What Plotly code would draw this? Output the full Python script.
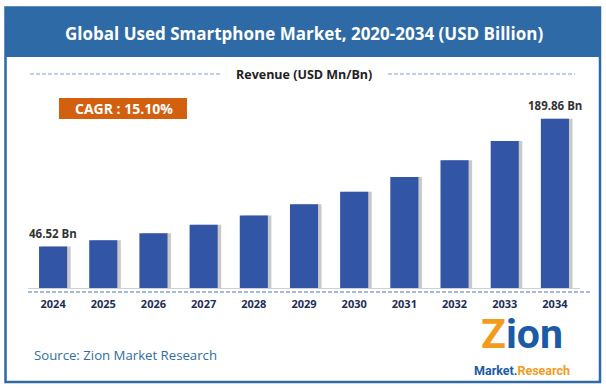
import plotly.graph_objects as go

years = ["2024", "2025", "2026", "2027", "2028", "2029", "2030", "2031", "2032", "2033", "2034"]
revenue = [46.52, 53.6, 61.5, 71.0, 81.5, 94.0, 108.0, 124.5, 143.5, 165.0, 189.86]
first_label = "46.52 Bn"
last_label = "189.86 Bn"
title_text = "Global Used Smartphone Market, 2020-2034 (USD Billion)"
subtitle_text = "Revenue (USD Mn/Bn)"
cagr_text = "CAGR : 15.10%"
source_text = "Source: Zion Market Research"

W, H = 606, 388
L, R, T, B = 28, 26, 92, 100
PW = W - L - R
PH = H - T - B


def px(x):
    return (x - L) / PW


def py(y):
    return (H - B - y) / PH


BLUE = "#2d6aa6"
BAR = "#3256a5"
FONT = "Open Sans"

fig = go.Figure()

# shadow
fig.add_trace(go.Bar(x=years, y=revenue, width=0.56, offset=-0.21,
                     marker=dict(color="rgba(120,120,120,0.4)", line_width=0),
                     hoverinfo="skip", showlegend=False))
fig.add_trace(go.Bar(x=years, y=revenue, width=0.56, offset=-0.28,
                     marker=dict(color=BAR, line_width=0),
                     showlegend=False))

shapes = []
# header
shapes.append(dict(type="rect", xref="paper", yref="paper", x0=px(5), x1=px(600), y0=py(57), y1=py(7),
                   fillcolor=BLUE, line_width=0, layer="below"))
# border
shapes.append(dict(type="rect", xref="paper", yref="paper", x0=px(5.5), x1=px(600), y0=py(382), y1=py(7.5),
                   line=dict(color=BLUE, width=2.5), fillcolor="rgba(0,0,0,0)"))
# dashed lines around subtitle
for x0, x1 in [(30, 222), (388, 575)]:
    shapes.append(dict(type="line", xref="paper", yref="paper", x0=px(x0), x1=px(x1), y0=py(74), y1=py(74),
                       line=dict(color="#7f9fd0", width=1, dash="4px,2px")))
# baseline gray
shapes.append(dict(type="line", xref="paper", yref="paper", x0=px(28), x1=px(580), y0=py(288.5), y1=py(288.5),
                   line=dict(color="#cfcfcf", width=1)))
# dashed baseline
shapes.append(dict(type="line", xref="paper", yref="paper", x0=px(28), x1=px(592), y0=py(292), y1=py(292),
                   line=dict(color="#4a78c2", width=1, dash="4px,2px")))
# CAGR box
shapes.append(dict(type="rect", xref="paper", yref="paper", x0=px(59), x1=px(187), y0=py(119), y1=py(98),
                   fillcolor="#d2600f", line_width=0))

annotations = [
    dict(text=title_text, x=px(304), y=py(33), xref="paper", yref="paper", showarrow=False,
         font=dict(family=FONT, size=17, color="white", weight="bold"), xanchor="center", yanchor="middle"),
    dict(text=subtitle_text, x=px(304), y=py(74), xref="paper", yref="paper", showarrow=False,
         font=dict(family=FONT, size=12.5, color="#222", weight="bold"), xanchor="center", yanchor="middle"),
    dict(text=cagr_text, x=px(124), y=py(108.5), xref="paper", yref="paper", showarrow=False,
         font=dict(family=FONT, size=14, color="white", weight="bold"), xanchor="center", yanchor="middle"),
    dict(text=first_label, x=0, y=revenue[0], xref="x", yref="y", showarrow=False, yshift=13,
         font=dict(family=FONT, size=11.5, color="#333", weight="bold"), xanchor="center", yanchor="middle"),
    dict(text=last_label, x=len(years) - 1, y=revenue[-1], xref="x", yref="y", showarrow=False, yshift=13,
         font=dict(family=FONT, size=11.5, color="#333", weight="bold"), xanchor="center", yanchor="middle"),
    dict(text=source_text, x=px(32), y=py(355), xref="paper", yref="paper", showarrow=False,
         font=dict(family=FONT, size=13.2, color="#2e6da4"), xanchor="left", yanchor="middle"),
    # logo
    dict(text="<b>Z<span style='color:#1a5aa6'>ion</span></b>", x=px(522), y=py(334), xref="paper", yref="paper",
         showarrow=False, font=dict(family="Roboto", size=41, color="#f39b1d"), xanchor="center", yanchor="middle"),
    dict(text="<b><span style='color:#1a5aa6'>Market</span>.<span style='color:#f39b1d'>Research</span></b>",
         x=px(522), y=py(370), xref="paper", yref="paper", showarrow=False,
         font=dict(family="Roboto", size=12.5, color="#1a5aa6"), xanchor="center", yanchor="middle"),
]

fig.update_layout(
    width=W, height=H,
    margin=dict(l=L, r=R, t=T, b=B),
    paper_bgcolor="white", plot_bgcolor="white",
    barmode="overlay",
    shapes=shapes, annotations=annotations,
    xaxis=dict(type="category", range=[-0.5, 10.5], showgrid=False, zeroline=False, showline=False,
               ticks="", tickfont=dict(family=FONT, size=11, color="#1f2d5a", weight="bold"),
               ticklabelstandoff=8),
    yaxis=dict(range=[0, 220], visible=False, showgrid=False, zeroline=False),
    font=dict(family=FONT),
)

fig.write_html("out.html", config={"displayModeBar": False},
               post_script="document.body.style.margin='0';document.body.style.overflow='hidden';")
